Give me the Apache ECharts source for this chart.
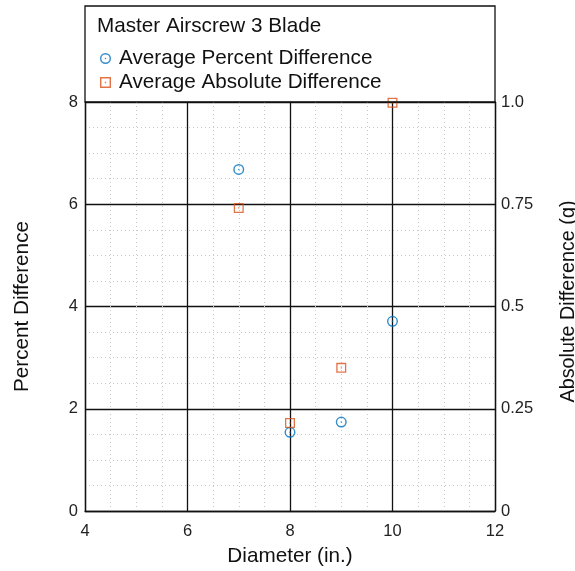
<!DOCTYPE html>
<html>
<head>
<meta charset="utf-8">
<script src="https://cdn.jsdelivr.net/npm/echarts@6/dist/echarts.min.js"></script>
<style>
html,body{margin:0;padding:0;background:#fff;}
#chart{width:575px;height:571px;}
</style>
</head>
<body>
<div id="chart"></div>
<script>
var chartTitle = 'Master Airscrew 3 Blade';
var diameters = [7, 8, 9, 10];
var percentDiff = [6.68, 1.54, 1.74, 3.71];
var absDiff = [0.741, 0.215, 0.350, 0.998];
var seriesNames = ['Average Percent Difference', 'Average Absolute Difference'];
var xName = 'Diameter (in.)';
var yLeftName = 'Percent Difference';
var yRightName = 'Absolute Difference (g)';
var rightTickLabels = {0: '0', 0.25: '0.25', 0.5: '0.5', 0.75: '0.75', 1: '1.0'};

var BLUE = '#0072BD', ORANGE = '#D95319';
var FONT = 'Liberation Sans, Arial, sans-serif';
var NAME_SIZE = 20.7, TICK_SIZE = 16.5;

// ring + centre dot (hole by opposite winding)
var CIRCLE_DOT = 'path://M0,10 A10,10 0 1,0 20,10 A10,10 0 1,0 0,10 Z ' +
  'M2.6,10 A7.4,7.4 0 1,1 17.4,10 A7.4,7.4 0 1,1 2.6,10 Z ' +
  'M8.6,10 A1.4,1.4 0 1,0 11.4,10 A1.4,1.4 0 1,0 8.6,10 Z';
var SQUARE_DOT = 'path://M0,0 L20,0 L20,20 L0,20 Z ' +
  'M2.6,2.6 L2.6,17.4 L17.4,17.4 L17.4,2.6 Z ' +
  'M8.8,8.8 L11.2,8.8 L11.2,11.2 L8.8,11.2 Z';

function pairs(xs, ys) { return xs.map(function (x, i) { return [x, ys[i]]; }); }

var chart = echarts.init(document.getElementById('chart'), null, {renderer: 'canvas'});
var minorDotted = {show: true, lineStyle: {color: '#c8c8c8', width: 1, type: [1, 3]}};
var majorSolid = {show: true, lineStyle: {color: '#111', width: 1.3, type: 'solid'}};

chart.setOption({
  animation: false,
  backgroundColor: '#fff',
  textStyle: {fontFamily: FONT},
  title: {
    text: chartTitle, left: 97, top: 16, padding: 0,
    textStyle: {fontSize: NAME_SIZE, fontWeight: 'normal', color: '#111', fontFamily: FONT}
  },
  legend: {
    data: seriesNames, orient: 'vertical', left: 95, top: 43,
    itemGap: 3, itemWidth: 11, itemHeight: 11,
    textStyle: {fontSize: NAME_SIZE, color: '#111', fontFamily: FONT, padding: [0, 0, 0, 3]}
  },
  graphic: [{
    type: 'rect', z: 100,
    shape: {x: 85, y: 6, width: 410, height: 96},
    style: {fill: 'none', stroke: '#111', lineWidth: 1.3}
  }],
  grid: {left: 85, right: 80, top: 102, bottom: 60, show: false,
         containLabel: false, outerBoundsMode: 'none'},
  xAxis: {
    type: 'value', min: 4, max: 12, interval: 2,
    name: xName, nameLocation: 'middle', nameGap: 35,
    nameTextStyle: {fontSize: NAME_SIZE, color: '#111', fontFamily: FONT},
    axisLine: {show: true, onZero: false, lineStyle: {color: '#111', width: 1.3}},
    axisTick: {show: false},
    axisLabel: {fontSize: TICK_SIZE, color: '#222', margin: 12, fontFamily: FONT},
    splitLine: majorSolid,
    minorTick: {show: false, splitNumber: 4},
    minorSplitLine: minorDotted
  },
  yAxis: [{
    type: 'value', min: 0, max: 8, interval: 2, position: 'left',
    name: yLeftName, nameLocation: 'middle', nameGap: 52,
    nameTextStyle: {fontSize: NAME_SIZE, color: '#111', fontFamily: FONT},
    axisLine: {show: true, lineStyle: {color: '#111', width: 1.3}},
    axisTick: {show: false},
    axisLabel: {fontSize: TICK_SIZE, color: '#222', margin: 7, fontFamily: FONT},
    splitLine: majorSolid,
    minorTick: {show: false, splitNumber: 4},
    minorSplitLine: minorDotted
  }, {
    type: 'value', min: 0, max: 1, interval: 0.25, position: 'right',
    name: yRightName, nameLocation: 'middle', nameGap: 64,
    nameTextStyle: {fontSize: 19.8, color: '#111', fontFamily: FONT, padding: [0, 0, 0, 10]},
    axisLine: {show: true, lineStyle: {color: '#111', width: 1.3}},
    axisTick: {show: false},
    axisLabel: {
      fontSize: TICK_SIZE, color: '#222', margin: 6, fontFamily: FONT,
      formatter: function (v) { return rightTickLabels[v] !== undefined ? rightTickLabels[v] : String(v); }
    },
    splitLine: {show: false}
  }],
  series: [{
    name: seriesNames[0], type: 'scatter', yAxisIndex: 0,
    symbol: CIRCLE_DOT, symbolSize: 11, z: 5,
    itemStyle: {color: BLUE},
    data: pairs(diameters, percentDiff)
  }, {
    name: seriesNames[1], type: 'scatter', yAxisIndex: 1,
    symbol: SQUARE_DOT, symbolSize: 10, z: 5,
    itemStyle: {color: ORANGE},
    data: pairs(diameters, absDiff)
  }]
});
</script>
</body>
</html>
